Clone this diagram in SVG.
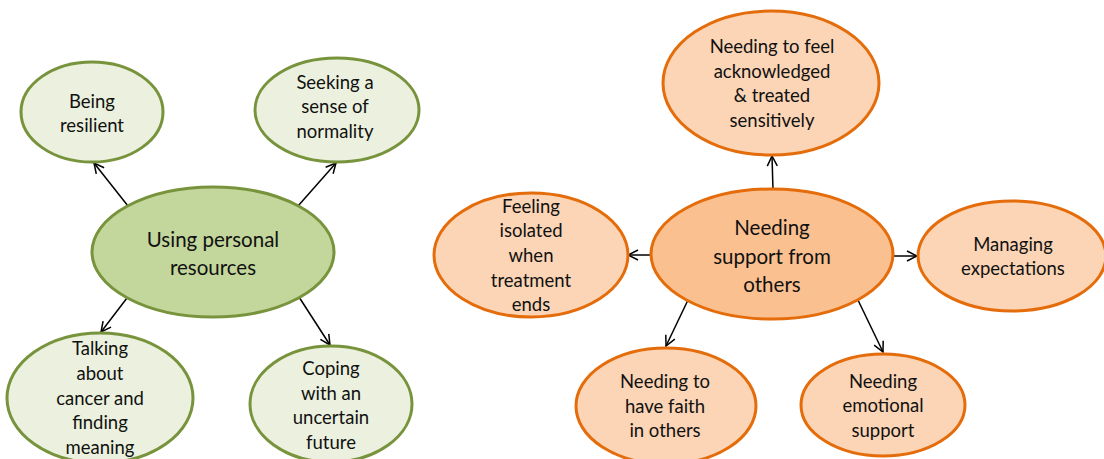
<svg xmlns="http://www.w3.org/2000/svg" width="1104" height="459" viewBox="0 0 1104 459">
<defs>
<marker id="arr" viewBox="0 0 12 12" refX="11" refY="6" markerWidth="12" markerHeight="12" markerUnits="userSpaceOnUse" orient="auto">
<path d="M1,1 L11,6 L1,11" fill="none" stroke="#000" stroke-width="1.5"/>
</marker>
<style>
.g{fill:#EBF1DE;stroke:#77933C;stroke-width:3}
.gc{fill:#C3D69B;stroke:#77933C;stroke-width:3}
.o{fill:#FBD5B5;stroke:#E46C0A;stroke-width:3}
.oc{fill:#FAC090;stroke:#E46C0A;stroke-width:3}
text{font-family:Lato,"Liberation Sans",sans-serif;font-size:18.5px;fill:#111;text-anchor:middle;dominant-baseline:central}
.big{font-size:20.5px}
.conn line{stroke:#000;stroke-width:1.5;marker-end:url(#arr)}
</style>
</defs>
<rect width="1104" height="459" fill="#fff"/>
<g class="conn" id="connectors">
<line x1="128" y1="206" x2="94" y2="163"/>
<line x1="298" y1="206" x2="336" y2="163"/>
<line x1="127" y1="298" x2="101" y2="332"/>
<line x1="299" y1="297" x2="330" y2="345"/>
<line x1="773" y1="190" x2="772" y2="156"/>
<line x1="652" y1="255" x2="628" y2="255"/>
<line x1="893" y1="256" x2="917" y2="256"/>
<line x1="688" y1="300" x2="666" y2="346"/>
<line x1="857" y1="298" x2="883" y2="352"/>
</g>
<g id="being-resilient">
<ellipse class="g" cx="92" cy="112" rx="71" ry="50"/>
<text x="92" y="101">Being</text>
<text x="92" y="125">resilient</text>
</g>
<g id="seeking-normality">
<ellipse class="g" cx="337" cy="110" rx="82" ry="52"/>
<text x="335" y="82">Seeking a</text>
<text x="335" y="106">sense of</text>
<text x="335" y="131">normality</text>
</g>
<g id="using-personal-resources">
<ellipse class="gc" cx="213" cy="252" rx="121" ry="65"/>
<text class="big" x="213" y="239">Using personal</text>
<text class="big" x="213" y="267">resources</text>
</g>
<g id="talking-about-cancer">
<ellipse class="g" cx="100" cy="398" rx="93" ry="65"/>
<text x="100" y="348">Talking</text>
<text x="100" y="373">about</text>
<text x="100" y="398">cancer and</text>
<text x="100" y="422">finding</text>
<text x="100" y="447">meaning</text>
</g>
<g id="coping-uncertain-future">
<ellipse class="g" cx="331" cy="404" rx="81" ry="58"/>
<text x="331" y="368">Coping</text>
<text x="331" y="393">with an</text>
<text x="331" y="417">uncertain</text>
<text x="331" y="442">future</text>
</g>
<g id="needing-acknowledged">
<ellipse class="o" cx="771" cy="83" rx="108" ry="72"/>
<text x="772" y="46">Needing to feel</text>
<text x="772" y="71">acknowledged</text>
<text x="772" y="95">&amp; treated</text>
<text x="772" y="120">sensitively</text>
</g>
<g id="needing-support">
<ellipse class="oc" cx="772" cy="254" rx="121" ry="65"/>
<text class="big" x="772" y="227">Needing</text>
<text class="big" x="772" y="256">support from</text>
<text class="big" x="772" y="284">others</text>
</g>
<g id="feeling-isolated">
<ellipse class="o" cx="531" cy="255" rx="97" ry="62"/>
<text x="531" y="206">Feeling</text>
<text x="531" y="230">isolated</text>
<text x="531" y="255">when</text>
<text x="531" y="280">treatment</text>
<text x="531" y="304">ends</text>
</g>
<g id="managing-expectations">
<ellipse class="o" cx="1012" cy="256" rx="94" ry="55"/>
<text x="1013" y="244">Managing</text>
<text x="1013" y="268">expectations</text>
</g>
<g id="faith-in-others">
<ellipse class="o" cx="666" cy="406" rx="90" ry="58"/>
<text x="665" y="381">Needing to</text>
<text x="665" y="406">have faith</text>
<text x="665" y="430">in others</text>
</g>
<g id="emotional-support">
<ellipse class="o" cx="883" cy="405" rx="82" ry="51"/>
<text x="883" y="381">Needing</text>
<text x="883" y="405">emotional</text>
<text x="883" y="430">support</text>
</g>
</svg>
